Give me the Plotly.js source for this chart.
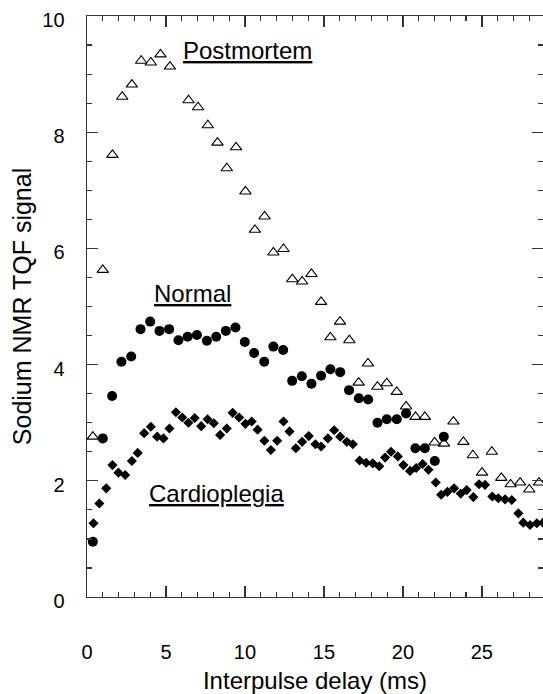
<!DOCTYPE html>
<html><head><meta charset="utf-8">
<script src="https://cdn.plot.ly/plotly-3.0.1.min.js"></script>
<style>html,body{margin:0;padding:0;background:#fff}#chart{width:543px;height:694px}</style>
</head><body><div id="chart"></div><script>
// Postmortem (open triangles)
const postX = [0.37,1.00,1.61,2.23,2.84,3.43,4.04,4.65,5.25,6.43,7.03,7.65,8.26,8.85,9.44,10.03,10.63,11.24,11.80,12.44,13.00,13.62,14.21,14.82,15.41,16.02,16.61,17.20,17.79,18.39,18.98,19.61,20.20,20.80,21.39,22.01,22.60,23.20,23.83,24.43,25.01,25.63,26.23,26.82,27.42,28.00,28.62];
const postY = [2.76,5.63,7.61,8.61,8.82,9.23,9.20,9.34,9.13,8.55,8.43,8.12,7.82,7.38,7.74,6.98,6.32,6.55,5.93,5.99,5.47,5.43,5.56,5.08,4.47,4.74,4.42,3.69,4.02,3.62,3.68,3.53,3.28,3.10,3.10,2.66,2.64,3.02,2.67,2.44,2.14,2.50,2.05,1.94,1.97,1.85,1.97];
// Normal (filled circles)
const normX = [0.37,1.00,1.59,2.18,2.80,3.39,4.00,4.59,5.20,5.79,6.37,6.96,7.59,8.18,8.79,9.40,9.99,10.58,11.22,11.80,12.42,12.99,13.60,14.21,14.82,15.41,16.03,16.59,17.21,17.80,18.39,18.98,19.61,20.20,20.79,21.39,22.02,22.59];
const normY = [0.95,2.73,3.46,4.05,4.14,4.61,4.74,4.58,4.61,4.42,4.48,4.51,4.41,4.48,4.58,4.64,4.39,4.20,4.05,4.31,4.25,3.72,3.80,3.67,3.81,3.92,3.87,3.56,3.42,3.40,3.00,3.06,3.06,3.16,2.56,2.56,2.34,2.76];
// Cardioplegia (filled diamonds)
const cardX = [0.41,0.78,1.22,1.61,1.99,2.42,2.84,3.21,3.62,4.04,4.44,4.84,5.22,5.63,6.03,6.42,6.82,7.23,7.63,8.03,8.43,8.85,9.22,9.63,10.03,10.43,10.80,11.23,11.64,12.04,12.44,12.82,13.22,13.62,14.04,14.46,14.82,15.25,15.65,16.03,16.45,16.83,17.26,17.67,18.09,18.50,18.87,19.25,19.68,20.03,20.45,20.84,21.25,21.62,22.08,22.42,22.82,23.24,23.66,24.04,24.46,24.82,25.20,25.66,26.04,26.47,26.89,27.31,27.62,28.05,28.48,28.87];
const cardY = [1.27,1.61,1.87,2.27,2.14,2.10,2.34,2.48,2.82,2.93,2.76,2.73,2.90,3.18,3.09,3.00,3.08,2.94,3.06,2.99,2.79,2.90,3.17,3.09,2.98,3.02,2.88,2.69,2.53,2.69,3.02,2.85,2.56,2.67,2.77,2.63,2.59,2.73,2.87,2.76,2.67,2.63,2.35,2.31,2.30,2.25,2.40,2.50,2.42,2.27,2.17,2.22,2.29,2.19,1.97,1.76,1.81,1.87,1.78,1.84,1.72,1.94,1.93,1.73,1.70,1.68,1.67,1.44,1.28,1.24,1.27,1.28];

const labelNames = ['Postmortem','Normal','Cardioplegia'];
const labelX = [10.17, 6.69, 8.18];
const labelY = [9.40, 5.22, 1.78];

const FONT = 'Arial, "Liberation Sans", Helvetica, sans-serif';
const INK = '#000';
const AX = '#333';

const traces = [
  {x: postX, y: postY, type: 'scatter', mode: 'markers', name: 'Postmortem',
   marker: {symbol: 'triangle-up-open', size: 10, color: INK, line: {width: 1.1, color: INK}}},
  {x: normX, y: normY, type: 'scatter', mode: 'markers', name: 'Normal',
   marker: {symbol: 'circle', size: 10, color: INK, line: {width: 0}}},
  {x: cardX, y: cardY, type: 'scatter', mode: 'markers', name: 'Cardioplegia',
   marker: {symbol: 'diamond', size: 7.8, color: INK, line: {width: 0}}}
];

const layout = {
  width: 543, height: 694,
  margin: {l: 87, r: 0, t: 16, b: 97},
  paper_bgcolor: '#fff', plot_bgcolor: '#fff',
  showlegend: false,
  font: {family: FONT, color: INK},
  xaxis: {
    range: [0, 28.87], tick0: 0, dtick: 5,
    showgrid: false, zeroline: false,
    showline: true, linecolor: AX, linewidth: 1.4, mirror: 'ticks',
    ticks: 'inside', ticklen: 11, tickwidth: 1.3, tickcolor: AX,
    minor: {dtick: 1, ticks: 'inside', ticklen: 5, tickwidth: 1.2, tickcolor: AX, showgrid: false},
    ticklabelstandoff: 37,
    tickfont: {size: 20, family: FONT, color: INK},
    title: {text: 'Interpulse delay (ms)', font: {size: 24, family: FONT, color: INK}, standoff: 12}
  },
  yaxis: {
    range: [0, 10], tick0: 0, dtick: 2,
    showgrid: false, zeroline: false,
    showline: true, linecolor: AX, linewidth: 1.4, mirror: 'ticks',
    ticks: 'inside', ticklen: 11, tickwidth: 1.3, tickcolor: AX,
    minor: {dtick: 0.5, ticks: 'inside', ticklen: 5, tickwidth: 1.2, tickcolor: AX, showgrid: false},
    ticklabelstandoff: 17,
    ticklabelshift: 4,
    tickfont: {size: 20, family: FONT, color: INK},
    title: {text: 'Sodium NMR TQF signal', font: {size: 25, family: FONT, color: INK}, standoff: 3}
  },
  annotations: labelNames.map((t, i) => ({
    x: labelX[i], y: labelY[i], xref: 'x', yref: 'y',
    text: '<u>' + t + '</u>', showarrow: false,
    xanchor: 'center', yanchor: 'middle',
    font: {size: 24, family: FONT, color: INK}
  }))
};

Plotly.newPlot('chart', traces, layout, {displayModeBar: false, staticPlot: true});
</script></body></html>
